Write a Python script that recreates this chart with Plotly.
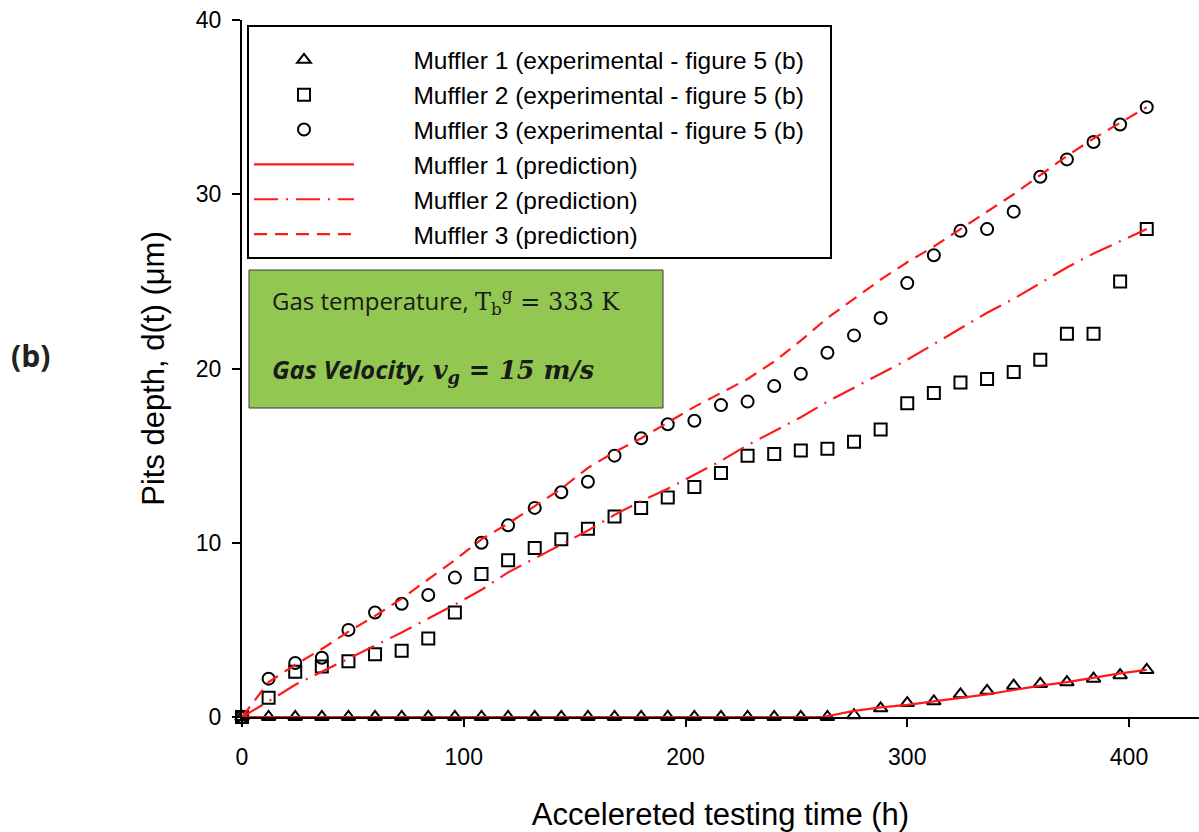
import plotly.graph_objects as go

# Accelerated testing time (h), sampled every 12 h
hours = [0, 12, 24, 36, 48, 60, 72, 84, 96, 108, 120, 132, 144, 156, 168, 180,
         192, 204, 216, 228, 240, 252, 264, 276, 288, 300, 312, 324, 336, 348,
         360, 372, 384, 396, 408]

# Measured pit depths (um)
muffler1_exp = [0, 0, 0, 0, 0, 0, 0, 0, 0, 0, 0, 0, 0, 0, 0, 0, 0, 0, 0, 0,
                0, 0, 0, 0.1, 0.5, 0.8, 0.9, 1.3, 1.5, 1.8, 1.9, 2.0, 2.2, 2.4, 2.7]
muffler2_exp = [0, 1.1, 2.6, 2.9, 3.2, 3.6, 3.8, 4.5, 6.0, 8.2, 9.0, 9.7, 10.2,
                10.8, 11.5, 12.0, 12.6, 13.2, 14.0, 15.0, 15.1, 15.3, 15.4, 15.8,
                16.5, 18.0, 18.6, 19.2, 19.4, 19.8, 20.5, 22.0, 22.0, 25.0, 28.0]
muffler3_exp = [0, 2.2, 3.1, 3.4, 5.0, 6.0, 6.5, 7.0, 8.0, 10.0, 11.0, 12.0, 12.9,
                13.5, 15.0, 16.0, 16.8, 17.0, 17.9, 18.1, 19.0, 19.7, 20.9, 21.9,
                22.9, 24.9, 26.5, 27.9, 28.0, 29.0, 31.0, 32.0, 33.0, 34.0, 35.0]

# Model predictions (um)
muffler1_pred_hours = [0, 262, 276, 288, 300, 312, 324, 336, 348, 360, 372, 384, 396, 408]
muffler1_pred = [0, 0, 0.35, 0.55, 0.7, 0.9, 1.1, 1.3, 1.55, 1.8, 2.0, 2.25, 2.5, 2.7]
muffler2_pred = [0, 0.9, 1.85, 2.6, 3.35, 4.1, 4.85, 5.65, 6.45, 7.3, 8.3, 9.1, 9.9,
                 10.7, 11.6, 12.4, 13.1, 13.9, 14.7, 15.6, 16.4, 17.2, 18.1, 18.9,
                 19.7, 20.5, 21.4, 22.3, 23.2, 24.0, 24.9, 25.8, 26.6, 27.3, 28.0]
muffler3_pred = [0, 2.0, 3.0, 3.9, 4.9, 5.8, 6.8, 7.9, 9.0, 10.2, 11.1, 12.1, 13.1,
                 14.3, 15.2, 16.0, 16.9, 17.8, 18.6, 19.4, 20.4, 21.6, 22.9, 24.0,
                 25.1, 26.1, 27.0, 28.0, 29.0, 30.0, 31.1, 32.2, 33.2, 34.1, 35.0]

x_ticks = [0, 100, 200, 300, 400]
y_ticks = [0, 10, 20, 30, 40]

BASE_FONT = "Liberation Sans, Arial, sans-serif"
RED = "#ff1a1a"
PAD = "\u00a0" * 8   # gap between legend glyphs and labels
TAIL = "\u00a0" * 3  # right-hand breathing room inside the legend box


# pixel helpers for paper-positioned decorations (plot area 242..1199 x 20..717)
def px(x):
    return (x - 242) / 957


def py(y):
    return (717 - y) / 697


fig = go.Figure()

for i, (name, ys, sym, sz) in enumerate([
    ("Muffler 1 (experimental - figure 5 (b)", muffler1_exp, "triangle-up-open", 12),
    ("Muffler 2 (experimental - figure 5 (b)", muffler2_exp, "square-open", 12),
    ("Muffler 3 (experimental - figure 5 (b)", muffler3_exp, "circle-open", 12),
]):
    fig.add_trace(go.Scatter(
        x=hours, y=ys, mode="markers", name=PAD + name + TAIL, legendgroup=f"g{i}",
        marker=dict(symbol=sym, size=sz, color="black", line=dict(color="black", width=2)),
        cliponaxis=False,
    ))

fig.add_trace(go.Scatter(
    x=muffler1_pred_hours, y=muffler1_pred, mode="lines", name=PAD + "Muffler 1 (prediction)",
    legendgroup="g3", line=dict(color=RED, width=2.2), cliponaxis=False,
))
fig.add_trace(go.Scatter(
    x=hours, y=muffler2_pred, mode="lines", name=PAD + "Muffler 2 (prediction)",
    legendgroup="g4", line=dict(color=RED, width=2.2, dash="24px,8px,2px,8px"), cliponaxis=False,
))
fig.add_trace(go.Scatter(
    x=hours, y=muffler3_pred, mode="lines", name=PAD + "Muffler 3 (prediction)",
    legendgroup="g5", line=dict(color=RED, width=2.2, dash="13px,8px"), cliponaxis=False,
))

# Condition box
fig.add_shape(type="rect", xref="paper", yref="paper",
              x0=px(249), x1=px(663), y0=py(408), y1=py(270),
              fillcolor="#92c851", line=dict(color="#3a3a3a", width=1), layer="above")
fig.add_annotation(
    xref="paper", yref="paper", x=px(270), y=py(302),
    xanchor="left", yanchor="middle", showarrow=False,
    text=("Gas temperature, <span style='font-family:DejaVu Serif'>T<sub>b</sub>"
          "<sup>g</sup> = 333 K</span>"),
    font=dict(family="Open Sans, sans-serif", size=24, color="#1a1a1a"),
)
fig.add_annotation(
    xref="paper", yref="paper", x=px(270), y=py(370),
    xanchor="left", yanchor="middle", showarrow=False,
    text=("<b><i>Gas Velocity, </i></b><span style='font-family:DejaVu Serif'>"
          "<b><i>v<sub>g</sub> = 15 m/s</i></b></span>"),
    font=dict(family="Open Sans, sans-serif", size=25.5, color="#1a1a1a"),
)

# Panel label
fig.add_annotation(
    xref="paper", yref="paper", x=px(30), y=py(355),
    xanchor="center", yanchor="middle", showarrow=False,
    text="<b>(b)</b>", font=dict(family="Open Sans, sans-serif", size=30, color="#222222"),
)

axis_common = dict(
    showline=True, linecolor="black", linewidth=2,
    ticks="outside", ticklen=8, tickwidth=2, tickcolor="black",
    showgrid=False, zeroline=False,
    tickfont=dict(family=BASE_FONT, size=23, color="black"),
)

fig.update_xaxes(
    range=[0, 957 / 2.2175], tickvals=x_ticks, ticktext=[str(v) for v in x_ticks],
    ticklabelstandoff=10,
    title=dict(text="Accelereted testing time (h)", standoff=40,
               font=dict(family=BASE_FONT, size=31, color="black")),
    **axis_common,
)
fig.update_yaxes(
    range=[0, 40], tickvals=y_ticks, ticktext=[str(v) for v in y_ticks],
    ticklabelstandoff=6,
    title=dict(text="Pits depth, d(t) (\u03bcm)", standoff=22,
               font=dict(family=BASE_FONT, size=31, color="black")),
    **axis_common,
)

fig.update_layout(
    width=1199, height=832,
    margin=dict(l=242, r=0, t=20, b=115, autoexpand=False),
    paper_bgcolor="white", plot_bgcolor="white",
    showlegend=True,
    legend=dict(
        x=px(247), y=py(25), xanchor="left", yanchor="top",
        bgcolor="white", bordercolor="black", borderwidth=2,
        font=dict(family=BASE_FONT, size=24.5, color="black"),
        title=dict(text="\u00a0", font=dict(size=8)),
        itemwidth=100, tracegroupgap=0, traceorder="grouped",
    ),
)

fig.write_html("out.html")
